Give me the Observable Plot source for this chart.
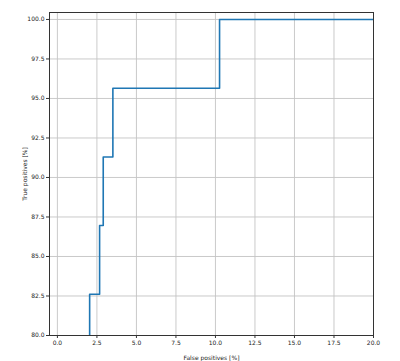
<!DOCTYPE html>
<html>
<head>
<meta charset="utf-8">
<script src="https://cdn.jsdelivr.net/npm/d3@7"></script>
<script src="https://cdn.jsdelivr.net/npm/@observablehq/plot@0.6"></script>
<style>
  html, body { margin: 0; padding: 0; background: #fff; }
  #chart svg { display: block; }
</style>
</head>
<body>
<div id="chart"></div>
<script>
// ROC curve points (percent)
const fpr = [2.04, 2.04, 2.67, 2.67, 2.90, 2.90, 3.51, 3.51, 10.26, 10.26, 100];
const tpr = [78.26, 82.61, 82.61, 86.96, 86.96, 91.30, 91.30, 95.65, 95.65, 100, 100];
const xTicks = [0, 2.5, 5, 7.5, 10, 12.5, 15, 17.5, 20];
const yTicks = [80, 82.5, 85, 87.5, 90, 92.5, 95, 97.5, 100];

const data = fpr.map((x, i) => ({x, y: tpr[i]}));
const fmt = d => d.toFixed(1);

const chart = Plot.plot({
  width: 400,
  height: 361,
  marginLeft: 49,
  marginRight: 27,
  marginTop: 12,
  marginBottom: 26,
  style: {fontFamily: "DejaVu Sans", fontSize: "6px", color: "#222", background: "#fff"},
  x: {domain: [-0.5, 20], ticks: xTicks},
  y: {domain: [80, 100.44], ticks: yTicks},
  marks: [
    Plot.gridX(xTicks, {stroke: "#c4c4c4", strokeOpacity: 1, strokeWidth: 0.9}),
    Plot.gridY(yTicks, {stroke: "#c4c4c4", strokeOpacity: 1, strokeWidth: 0.9}),
    Plot.line(data, {x: "x", y: "y", stroke: "#1f77b4", strokeWidth: 1.6, clip: true}),
    Plot.axisX(xTicks, {tickSize: 3, tickPadding: 2, tickFormat: fmt, fontSize: 6, stroke: "#333",
      label: "False positives [%]", labelAnchor: "center", labelArrow: "none", labelOffset: 24}),
    Plot.axisY(yTicks, {tickSize: 3, tickPadding: 2, tickFormat: fmt, fontSize: 6, stroke: "#333",
      label: "True positives [%]", labelAnchor: "center", labelArrow: "none", labelOffset: 27}),
    Plot.frame({stroke: "#333", strokeWidth: 1})
  ]
});
document.getElementById("chart").appendChild(chart);
</script>
</body>
</html>
